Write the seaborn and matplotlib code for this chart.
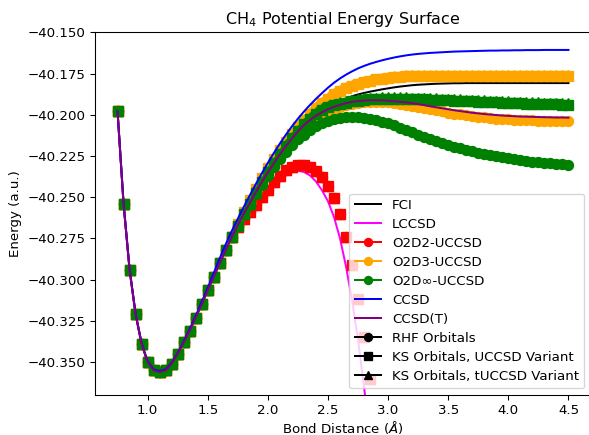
import matplotlib
matplotlib.use("Agg")
import matplotlib.pyplot as plt
from matplotlib.lines import Line2D
import seaborn as sns

# Bond distances (Angstrom)
bond_distance = [
    0.75, 0.80, 0.85, 0.90, 0.95, 1.00, 1.05, 1.10, 1.15, 1.20,
    1.25, 1.30, 1.35, 1.40, 1.45, 1.50, 1.55, 1.60, 1.65, 1.70,
    1.75, 1.80, 1.85, 1.90, 1.95, 2.00, 2.05, 2.10,
    2.15, 2.20, 2.25, 2.30, 2.35, 2.40, 2.45, 2.50,
    2.55, 2.60, 2.65, 2.70, 2.75, 2.80, 2.85, 2.90,
    2.95, 3.00, 3.05, 3.10, 3.15, 3.20, 3.25, 3.30,
    3.35, 3.40, 3.45, 3.50, 3.55, 3.60, 3.65, 3.70,
    3.75, 3.80, 3.85, 3.90, 3.95, 4.00, 4.05, 4.10,
    4.15, 4.20, 4.25, 4.30, 4.35, 4.40, 4.45, 4.50,
]

# Near equilibrium all methods agree (0.75 - 1.70)
e_near = [
    -40.198, -40.254, -40.294, -40.321, -40.339, -40.350, -40.355, -40.356, -40.355, -40.351,
    -40.345, -40.338, -40.331, -40.323, -40.315, -40.3065, -40.2985, -40.290, -40.282, -40.274,
]
ccsd_near = [
    -40.198, -40.2535, -40.2935, -40.3205, -40.3385, -40.3495, -40.3545, -40.3555, -40.3545, -40.3505,
    -40.3445, -40.3375, -40.330, -40.322, -40.3135, -40.305, -40.296, -40.287, -40.2785, -40.2705,
]

# Tails from 1.75 on
fci_tail = [
    -40.2670, -40.2600, -40.2535, -40.2470, -40.2407, -40.2350, -40.2295, -40.2240,
    -40.2190, -40.2145, -40.2100, -40.2063, -40.2030, -40.2000, -40.1975, -40.1953,
    -40.1933, -40.1916, -40.1901, -40.1888, -40.1877, -40.1868, -40.1860, -40.1853,
    -40.1846, -40.1840, -40.1834, -40.1829, -40.1825, -40.1821, -40.1818, -40.1816,
    -40.1814, -40.1812, -40.1811, -40.1810, -40.1809, -40.1809, -40.1808, -40.1808,
    -40.1808, -40.1808, -40.1808, -40.1808, -40.1808, -40.1808, -40.1808, -40.1808,
    -40.1808, -40.1808, -40.1808, -40.1808, -40.1808, -40.1808, -40.1808, -40.1808,
]
lccsd_tail = [
    -40.2690, -40.2645, -40.2600, -40.2555, -40.2510, -40.2468, -40.2428, -40.2393,
    -40.2365, -40.2347, -40.2340, -40.2347, -40.2368, -40.2405, -40.2458, -40.2525,
    -40.2620, -40.2750, -40.2920, -40.3125, -40.3365, -40.3650, -40.3980,
]
ccsd_tail = [
    -40.2631, -40.2559, -40.2489, -40.2421, -40.2355, -40.2292, -40.2232, -40.2175,
    -40.2121, -40.2071, -40.2024, -40.1981, -40.1941, -40.1904, -40.1869, -40.1836,
    -40.1806, -40.1780, -40.1757, -40.1737, -40.1719, -40.1704, -40.1691, -40.1680,
    -40.1670, -40.1661, -40.1653, -40.1646, -40.1640, -40.1635, -40.1631, -40.1628,
    -40.1625, -40.1623, -40.1621, -40.1619, -40.1617, -40.1616, -40.1615, -40.1614,
    -40.1613, -40.1612, -40.1611, -40.1611, -40.1610, -40.1610, -40.1609, -40.1609,
    -40.1608, -40.1608, -40.1608, -40.1607, -40.1607, -40.1607, -40.1607, -40.1607,
]
ccsd_t_tail = [
    -40.2670, -40.2600, -40.2535, -40.2470, -40.2407, -40.2350, -40.2295, -40.2240,
    -40.2190, -40.2145, -40.2100, -40.2063, -40.2032, -40.2006, -40.1985, -40.1967,
    -40.1952, -40.1940, -40.1930, -40.1922, -40.1917, -40.1914, -40.1912, -40.1912,
    -40.1913, -40.1915, -40.1918, -40.1921, -40.1925, -40.1930, -40.1936, -40.1942,
    -40.1949, -40.1955, -40.1961, -40.1967, -40.1973, -40.1978, -40.1983, -40.1988,
    -40.1992, -40.1996, -40.1999, -40.2002, -40.2005, -40.2007, -40.2009, -40.2011,
    -40.2012, -40.2013, -40.2014, -40.2015, -40.2016, -40.2017, -40.2017, -40.2018,
]

# O2D2 (same for all orbital variants), drops below the window
o2d2_tail = [
    -40.2680, -40.2635, -40.2590, -40.2545, -40.2500, -40.2455, -40.2410, -40.2370,
    -40.2338, -40.2316, -40.2305, -40.2305, -40.2318, -40.2342, -40.2378, -40.2430,
    -40.2505, -40.2605, -40.2740, -40.2910, -40.3115, -40.3350, -40.3600, -40.3860,
    -40.4130,
]

# O2D3: RHF orbitals, KS UCCSD variant, KS tUCCSD variant
o2d3_rhf_tail = [
    -40.2672, -40.2602, -40.2537, -40.2472, -40.2410, -40.2352, -40.2298, -40.2245,
    -40.2196, -40.2152, -40.2110, -40.2075, -40.2045, -40.2020, -40.1998, -40.1980,
    -40.1965, -40.1952, -40.1942, -40.1934, -40.1928, -40.1924, -40.1922, -40.1922,
    -40.1923, -40.1925, -40.1930, -40.1935, -40.1940, -40.1947, -40.1954, -40.1960,
    -40.1967, -40.1974, -40.1980, -40.1987, -40.1993, -40.1998, -40.2003, -40.2008,
    -40.2012, -40.2016, -40.2020, -40.2023, -40.2026, -40.2028, -40.2030, -40.2032,
    -40.2033, -40.2034, -40.2035, -40.2036, -40.2036, -40.2037, -40.2037, -40.2037,
]
o2d3_ucc_tail = [
    -40.2664, -40.2589, -40.2519, -40.2449, -40.2384, -40.2324, -40.2269, -40.2214,
    -40.2164, -40.2119, -40.2074, -40.2034, -40.1994, -40.1959, -40.1929, -40.1902,
    -40.1875, -40.1855, -40.1838, -40.1823, -40.1811, -40.1801, -40.1793, -40.1786,
    -40.1781, -40.1776, -40.1772, -40.1769, -40.1767, -40.1766, -40.1765, -40.1764,
    -40.1764, -40.1764, -40.1764, -40.1764, -40.1764, -40.1764, -40.1764, -40.1765,
    -40.1765, -40.1765, -40.1765, -40.1765, -40.1766, -40.1766, -40.1766, -40.1766,
    -40.1766, -40.1767, -40.1767, -40.1767, -40.1767, -40.1767, -40.1767, -40.1767,
]
o2d3_tucc_tail = [
    -40.2655, -40.2580, -40.2510, -40.2440, -40.2375, -40.2315, -40.2260, -40.2205,
    -40.2155, -40.2110, -40.2065, -40.2025, -40.1985, -40.1950, -40.1920, -40.1893,
    -40.1870, -40.1850, -40.1833, -40.1818, -40.1806, -40.1796, -40.1788, -40.1781,
    -40.1776, -40.1771, -40.1767, -40.1764, -40.1762, -40.1761, -40.1760, -40.1759,
    -40.1759, -40.1759, -40.1759, -40.1759, -40.1759, -40.1759, -40.1759, -40.1760,
    -40.1760, -40.1760, -40.1760, -40.1760, -40.1761, -40.1761, -40.1761, -40.1761,
    -40.1761, -40.1762, -40.1762, -40.1762, -40.1762, -40.1762, -40.1762, -40.1762,
]

# O2D-infinity: RHF orbitals, KS UCCSD variant, KS tUCCSD variant
o2dinf_rhf_tail = [
    -40.2675, -40.2608, -40.2545, -40.2483, -40.2425, -40.2370, -40.2318, -40.2270,
    -40.2225, -40.2185, -40.2150, -40.2120, -40.2093, -40.2070, -40.2050, -40.2035,
    -40.2025, -40.2019, -40.2015, -40.2013, -40.2014, -40.2018, -40.2024, -40.2032,
    -40.2042, -40.2053, -40.2065, -40.2078, -40.2092, -40.2106, -40.2120, -40.2134,
    -40.2147, -40.2160, -40.2172, -40.2183, -40.2194, -40.2204, -40.2213, -40.2222,
    -40.2230, -40.2238, -40.2245, -40.2252, -40.2258, -40.2264, -40.2270, -40.2275,
    -40.2280, -40.2284, -40.2288, -40.2292, -40.2295, -40.2298, -40.2300, -40.2302,
]
o2dinf_ucc_tail = [
    -40.2674, -40.2604, -40.2539, -40.2474, -40.2409, -40.2349, -40.2294, -40.2239,
    -40.2189, -40.2144, -40.2099, -40.2059, -40.2024, -40.1994, -40.1969, -40.1954,
    -40.1944, -40.1934, -40.1926, -40.1919, -40.1914, -40.1910, -40.1907, -40.1905,
    -40.1904, -40.1903, -40.1903, -40.1903, -40.1904, -40.1905, -40.1906, -40.1907,
    -40.1909, -40.1910, -40.1912, -40.1913, -40.1915, -40.1916, -40.1918, -40.1919,
    -40.1921, -40.1922, -40.1924, -40.1925, -40.1927, -40.1928, -40.1929, -40.1931,
    -40.1932, -40.1933, -40.1934, -40.1935, -40.1936, -40.1937, -40.1938, -40.1939,
]
o2dinf_tucc_tail = [
    -40.2665, -40.2595, -40.2530, -40.2465, -40.2400, -40.2340, -40.2285, -40.2230,
    -40.2180, -40.2135, -40.2090, -40.2050, -40.2015, -40.1985, -40.1960, -40.1945,
    -40.1935, -40.1925, -40.1917, -40.1910, -40.1905, -40.1901, -40.1898, -40.1896,
    -40.1895, -40.1894, -40.1894, -40.1894, -40.1895, -40.1896, -40.1897, -40.1898,
    -40.1900, -40.1901, -40.1903, -40.1904, -40.1906, -40.1907, -40.1909, -40.1910,
    -40.1912, -40.1913, -40.1915, -40.1916, -40.1918, -40.1919, -40.1920, -40.1922,
    -40.1923, -40.1924, -40.1925, -40.1926, -40.1927, -40.1928, -40.1929, -40.1930,
]

fci = e_near + fci_tail
lccsd = e_near + lccsd_tail
ccsd = ccsd_near + ccsd_tail
ccsd_t = e_near + ccsd_t_tail
o2d2 = e_near + o2d2_tail
o2d3_rhf = e_near + o2d3_rhf_tail
o2d3_ucc = e_near + o2d3_ucc_tail
o2d3_tucc = e_near + o2d3_tucc_tail
o2dinf_rhf = e_near + o2dinf_rhf_tail
o2dinf_ucc = e_near + o2dinf_ucc_tail
o2dinf_tucc = e_near + o2dinf_tucc_tail


def line(ax, y, color):
    x = bond_distance[:len(y)]
    sns.lineplot(x=x, y=y, color=color, linewidth=1.5, ax=ax, legend=False)


def dots(ax, y, color, marker):
    x = bond_distance[:len(y)]
    sns.lineplot(x=x, y=y, color=color, marker=marker,
                 linestyle="", markersize=7.5, markeredgecolor=color,
                 markeredgewidth=1, ax=ax, legend=False)


DPI = 96
fig = plt.figure(figsize=(589 / DPI, 435 / DPI), dpi=DPI)
ax = fig.add_axes([95 / 589, 40 / 435, 496 / 589, 362.7 / 435])

line(ax, fci, "black")
line(ax, lccsd, "magenta")

# O2D2
dots(ax, o2d2, "red", "o")
dots(ax, o2d2, "red", "^")
dots(ax, o2d2, "red", "s")
# O2D3
dots(ax, o2d3_rhf, "orange", "o")
dots(ax, o2d3_tucc, "orange", "^")
dots(ax, o2d3_ucc, "orange", "s")
# O2D-infinity
dots(ax, o2dinf_rhf, "green", "o")
dots(ax, o2dinf_tucc, "green", "^")
dots(ax, o2dinf_ucc, "green", "s")

line(ax, ccsd, "blue")
line(ax, ccsd_t, "purple")

ax.set_xlim(0.5625, 4.6875)
ax.set_ylim(-40.37, -40.15)
ax.set_title("CH$_4$ Potential Energy Surface")
ax.set_xlabel(r"Bond Distance ($\AA$)", labelpad=1)
ax.set_ylabel("Energy (a.u.)")

handles = [
    Line2D([], [], color="black", label="FCI"),
    Line2D([], [], color="magenta", label="LCCSD"),
    Line2D([], [], color="red", marker="o", label="O2D2-UCCSD"),
    Line2D([], [], color="orange", marker="o", label="O2D3-UCCSD"),
    Line2D([], [], color="green", marker="o", label="O2D\u221e-UCCSD"),
    Line2D([], [], color="blue", label="CCSD"),
    Line2D([], [], color="purple", label="CCSD(T)"),
    Line2D([], [], color="black", marker="o", label="RHF Orbitals"),
    Line2D([], [], color="black", marker="s", label="KS Orbitals, UCCSD Variant"),
    Line2D([], [], color="black", marker="^", label="KS Orbitals, tUCCSD Variant"),
]
ax.legend(handles=handles, loc="lower right", labelspacing=0.45)

fig.savefig("out.png", dpi=DPI)
